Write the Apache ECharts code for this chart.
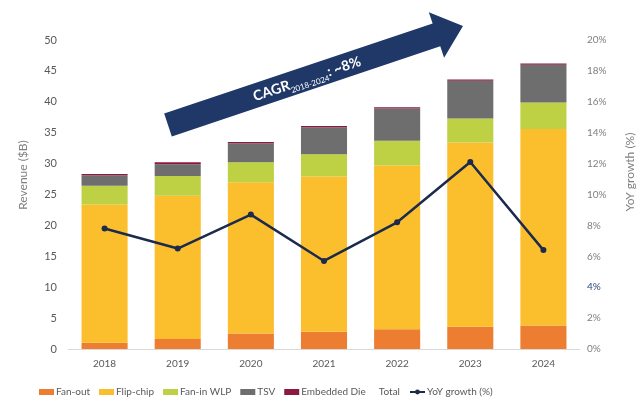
<!DOCTYPE html>
<html style="height:100%;">
<head>
    <meta charset="utf-8">
    <script src="https://cdn.jsdelivr.net/npm/echarts@6/dist/echarts.min.js"></script>
</head>
<body style="height:100%;margin:0;background:#fff;">
    <div id="main" style="width:640px;height:405px;"></div>
<script>
    // 数据 (单位: 十亿美元 / %)
    var years = ['2018', '2019', '2020', '2021', '2022', '2023', '2024'];
    var fanOut = [1.0, 1.6, 2.5, 2.8, 3.2, 3.6, 3.8];
    var flipChip = [22.4, 23.2, 24.5, 25.1, 26.5, 29.8, 31.8];
    var fanInWlp = [3.0, 3.2, 3.2, 3.6, 4.0, 3.9, 4.3];
    var tsv = [1.7, 1.9, 3.1, 4.4, 5.2, 6.1, 6.1];
    var embeddedDie = [0.2, 0.3, 0.2, 0.2, 0.2, 0.2, 0.2];
    var yoyGrowth = [7.8, 6.5, 8.7, 5.7, 8.2, 12.1, 6.4];

    var FONT = 'Lato';

    // 箭头多边形: 从起点到箭头尖
    function arrowPoints(x0, y0, x1, y1, half, headHalf, headLen) {
        var dx = x1 - x0, dy = y1 - y0;
        var len = Math.sqrt(dx * dx + dy * dy);
        var ux = dx / len, uy = dy / len;
        var nx = -uy, ny = ux;
        var bx = x1 - ux * headLen, by = y1 - uy * headLen;
        return [
            [x0 - nx * half, y0 - ny * half],
            [bx - nx * half, by - ny * half],
            [bx - nx * headHalf, by - ny * headHalf],
            [x1, y1],
            [bx + nx * headHalf, by + ny * headHalf],
            [bx + nx * half, by + ny * half],
            [x0 + nx * half, y0 + ny * half]
        ];
    }
    var ax0 = 168, ay0 = 125, ax1 = 463, ay1 = 26;
    var arrowAngle = Math.atan2(ay0 - ay1, ax1 - ax0);

    function barSeries(name, data, color) {
        return {
            name: name,
            type: 'bar',
            stack: 'rev',
            barWidth: '63%',
            data: data,
            itemStyle: { color: color }
        };
    }

    var chart = echarts.init(document.getElementById('main'));
    var option = {
        backgroundColor: '#ffffff',
        animation: false,
        textStyle: { fontFamily: FONT },
        grid: { left: 68, right: 60, top: 40, bottom: 56 },
        legend: {
            left: 34,
            bottom: 3,
            itemWidth: 15,
            itemHeight: 6,
            itemGap: 9,
            textStyle: { fontFamily: FONT, fontSize: 10, color: '#595959', padding: [0, 0, 0, -3] },
            data: [
                { name: 'Fan-out', icon: 'rect' },
                { name: 'Flip-chip', icon: 'rect' },
                { name: 'Fan-in WLP', icon: 'rect' },
                { name: 'TSV', icon: 'rect' },
                { name: 'Embedded Die', icon: 'rect' },
                { name: 'Total', icon: 'none', textStyle: { padding: [0, 0, 0, -16] } },
                { name: 'YoY growth (%)' }
            ]
        },
        xAxis: {
            type: 'category',
            data: years,
            axisLine: { lineStyle: { color: '#d9d9d9', width: 1 } },
            axisTick: { show: false },
            axisLabel: { color: '#595959', fontSize: 10, margin: 10 }
        },
        yAxis: [{
            type: 'value',
            min: 0, max: 50, interval: 5,
            splitLine: { show: false },
            axisLine: { show: false },
            axisLabel: { color: '#595959', fontSize: 11, margin: 11 }
        }, {
            type: 'value',
            min: 0, max: 20, interval: 2,
            splitLine: { show: false },
            axisLine: { show: false },
            axisLabel: {
                color: '#7f7f7f', fontSize: 10, margin: 7,
                formatter: function (v) {
                    return v === 4 ? '{d|' + v + '%}' : v + '%';
                },
                rich: { d: { color: '#2e4a7a', fontSize: 10, fontFamily: FONT } }
            }
        }],
        series: [
            barSeries('Fan-out', fanOut, '#ed7d31'),
            barSeries('Flip-chip', flipChip, '#fbbf2e'),
            barSeries('Fan-in WLP', fanInWlp, '#bed043'),
            barSeries('TSV', tsv, '#6e6e6e'),
            barSeries('Embedded Die', embeddedDie, '#8c1a3e'),
            { name: 'Total', type: 'line', data: [], itemStyle: { color: 'rgba(0,0,0,0)' } },
            {
                name: 'YoY growth (%)',
                type: 'line',
                yAxisIndex: 1,
                data: yoyGrowth,
                symbol: 'circle',
                symbolSize: 6,
                lineStyle: { color: '#1c2b4b', width: 2.5 },
                itemStyle: { color: '#1c2b4b' },
                z: 5
            }
        ],
        graphic: [
            {
                type: 'polygon',
                shape: { points: arrowPoints(ax0, ay0, ax1, ay1, 12, 24, 28) },
                style: { fill: '#1f3868' },
                z: 10
            },
            {
                type: 'text',
                x: 307, y: 79,
                rotation: arrowAngle,
                style: {
                    text: '{a|CAGR}{b|2018-2024}{a|: ~8%}',
                    align: 'center',
                    verticalAlign: 'middle',
                    rich: {
                        a: { fontFamily: FONT, fontSize: 14, fontWeight: 'bold', fill: '#ffffff', verticalAlign: 'bottom' },
                        b: { fontFamily: FONT, fontSize: 8, fill: '#ffffff', verticalAlign: 'bottom', padding: [0, 0, -3, 0] }
                    }
                },
                z: 11
            },
            {
                type: 'text',
                x: 23, y: 175,
                rotation: Math.PI / 2,
                style: { text: 'Revenue ($B)', fontFamily: FONT, fontSize: 12, fill: '#7f7f7f', align: 'center', verticalAlign: 'middle' }
            },
            {
                type: 'text',
                x: 630, y: 172,
                rotation: Math.PI / 2,
                style: { text: 'YoY growth (%)', fontFamily: FONT, fontSize: 12, fill: '#7f7f7f', align: 'center', verticalAlign: 'middle' }
            }
        ]
    };
    chart.setOption(option);
</script>
</body>
</html>
